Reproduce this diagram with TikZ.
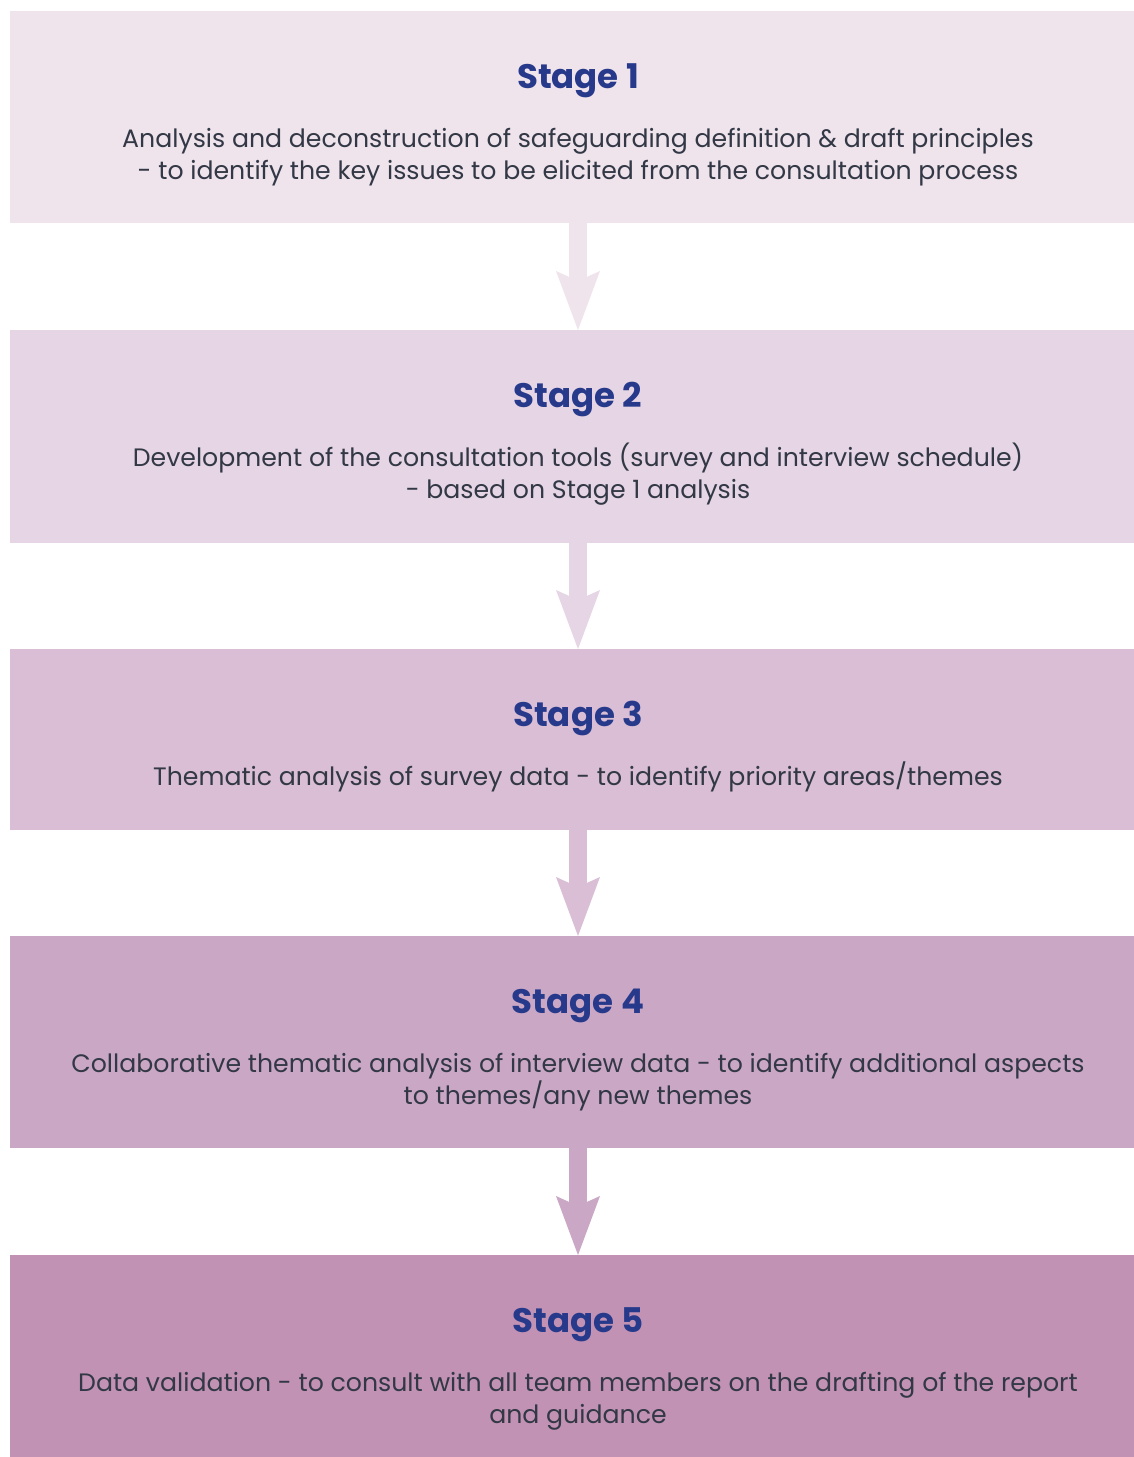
\documentclass[tikz,border=0pt]{standalone}
\usepackage{fontspec}
\setmainfont{Poppins}
\usetikzlibrary{arrows.meta}
\definecolor{cA}{HTML}{EFE3EC}
\definecolor{cB}{HTML}{E6D5E4}
\definecolor{cC}{HTML}{D9BED5}
\definecolor{cD}{HTML}{CBA7C6}
\definecolor{cE}{HTML}{C292B4}
\definecolor{ttl}{HTML}{27398A}
\definecolor{txt}{HTML}{323845}
\newcommand{\topstrut}{\rule{0pt}{26pt}}
\tikzset{
  stagebox/.style={rectangle, draw=none, inner sep=0pt, anchor=north west, minimum width=1124pt},
  stagetitle/.style={anchor=base, font=\fontsize{34}{38}\selectfont\bfseries, text=ttl, inner sep=0pt},
  stagetext/.style={anchor=north, font=\fontsize{25.2}{32.5}\selectfont, text=txt, align=center, inner sep=0pt},
  flow/.style={line width=18pt, -{Stealth[length=59pt, width=44pt, inset=10pt, line width=0pt]}}
}
\begin{document}
\begin{tikzpicture}[x=1pt,y=-1pt]
\fill[white] (0,0) rectangle (1134,1457);
\useasboundingbox (0,0) rectangle (1134,1457);
\node[stagebox, fill=cA, minimum height=212pt] (s1) at (10,11) {};
\node[stagebox, fill=cB, minimum height=213pt] (s2) at (10,330) {};
\node[stagebox, fill=cC, minimum height=181pt] (s3) at (10,649) {};
\node[stagebox, fill=cD, minimum height=212pt] (s4) at (10,936) {};
\node[stagebox, fill=cE, minimum height=202pt] (s5) at (10,1255) {};
\coordinate (a1) at (578,223); \coordinate (b2) at (578,330);
\coordinate (a2) at (578,543); \coordinate (b3) at (578,649);
\coordinate (a3) at (578,830); \coordinate (b4) at (578,936);
\coordinate (a4) at (578,1148); \coordinate (b5) at (578,1255);
\draw[flow, cA] (a1) -- (b2);
\draw[flow, cB] (a2) -- (b3);
\draw[flow, cC] (a3) -- (b4);
\draw[flow, cD] (a4) -- (b5);
\node[stagetitle] (t1) at (578,88) {Stage 1};
\node[stagetext] (d1) at (578,121) {\topstrut Analysis and deconstruction of safeguarding definition \& draft principles\\- to identify the key issues to be elicited from the consultation process};
\node[stagetitle] (t2) at (578,407) {Stage 2};
\node[stagetext] (d2) at (578,440) {\topstrut Development of the consultation tools (survey and interview schedule)\\- based on Stage 1 analysis};
\node[stagetitle] (t3) at (578,726) {Stage 3};
\node[stagetext] (d3) at (578,759) {\topstrut Thematic analysis of survey data - to identify priority areas/themes};
\node[stagetitle] (t4) at (578,1013) {Stage 4};
\node[stagetext] (d4) at (578,1046) {\topstrut Collaborative thematic analysis of interview data - to identify additional aspects\\to themes/any new themes};
\node[stagetitle] (t5) at (578,1332) {Stage 5};
\node[stagetext] (d5) at (578,1365) {\topstrut Data validation - to consult with all team members on the drafting of the report\\and guidance};
\end{tikzpicture}
\end{document}
